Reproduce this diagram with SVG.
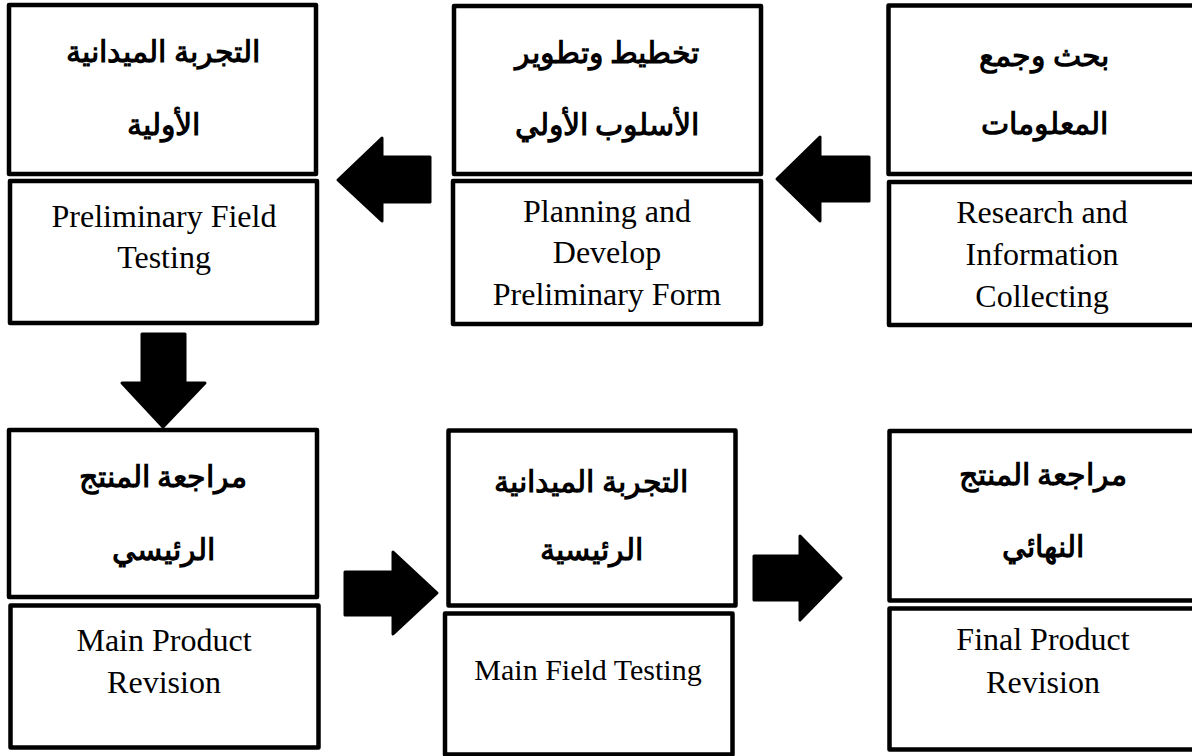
<svg xmlns="http://www.w3.org/2000/svg" width="1192" height="756" viewBox="0 0 1192 756">
<style>
.box{fill:#fff;stroke:#000;stroke-width:4.5;stroke-linejoin:round}
.ar{font-family:"Liberation Serif",serif;font-weight:bold;font-size:30px;fill:#000;text-anchor:middle}
.en{font-family:"Liberation Serif",serif;font-size:32px;fill:#000;text-anchor:middle}
.en30{font-size:30px}
.arrow{fill:#000;stroke:#000;stroke-width:3;stroke-linejoin:round}
</style>
<rect width="1192" height="756" fill="#fff"/>
<g id="connectors">
<polygon class="arrow" points="777,179 820,137 820,157 869,157 869,201 820,201 820,221"/>
<polygon class="arrow" points="338,180 382,138 382,157 430,157 430,202 382,202 382,221"/>
<polygon class="arrow" points="142,334 185,334 185,383 205,383 163,427 122,383 142,383"/>
<polygon class="arrow" points="345,572 393,572 393,552 437,593 393,634 393,615 345,615"/>
<polygon class="arrow" points="754,556 800,556 800,536 841,578 800,620 800,600 754,600"/>
</g>
<g id="node-research">
<rect class="box" x="888.5" y="5.5" width="320" height="168.5"/>
<text class="ar" x="1044" y="66" direction="rtl">بحث وجمع</text>
<text class="ar" x="1044" y="134" direction="rtl">المعلومات</text>
<rect class="box" x="889" y="182" width="320" height="143"/>
<text class="en" x="1042" y="223">Research and</text>
<text class="en" x="1042" y="265">Information</text>
<text class="en" x="1042" y="307">Collecting</text>
</g>
<g id="node-planning">
<rect class="box" x="454" y="6" width="307" height="168"/>
<text class="ar" x="607" y="63" direction="rtl">تخطيط وتطوير</text>
<text class="ar" x="607" y="135" direction="rtl">الأسلوب الأولي</text>
<rect class="box" x="453" y="181" width="308" height="143"/>
<text class="en" x="607" y="222">Planning and</text>
<text class="en" x="607" y="263">Develop</text>
<text class="en" x="607" y="305">Preliminary Form</text>
</g>
<g id="node-prelim-test">
<rect class="box" x="9" y="5" width="307" height="169"/>
<text class="ar" x="163" y="62" direction="rtl">التجربة الميدانية</text>
<text class="ar" x="163" y="135" direction="rtl">الأولية</text>
<rect class="box" x="10" y="181" width="307" height="142"/>
<text class="en" x="164" y="227">Preliminary Field</text>
<text class="en" x="164" y="268">Testing</text>
</g>
<g id="node-main-revision">
<rect class="box" x="9" y="430" width="308" height="167"/>
<text class="ar" x="163" y="487" direction="rtl">مراجعة المنتج</text>
<text class="ar" x="163" y="560" direction="rtl">الرئيسي</text>
<rect class="box" x="10.5" y="605.5" width="308" height="142"/>
<text class="en" x="164" y="651">Main Product</text>
<text class="en" x="164" y="693">Revision</text>
</g>
<g id="node-main-test">
<rect class="box" x="448.5" y="430.5" width="287" height="175"/>
<text class="ar" x="591" y="492" direction="rtl">التجربة الميدانية</text>
<text class="ar" x="591" y="560" direction="rtl">الرئيسية</text>
<rect class="box" x="445" y="613.5" width="287.5" height="141"/>
<text class="en en30" x="588" y="680">Main Field Testing</text>
</g>
<g id="node-final-revision">
<rect class="box" x="889.5" y="431" width="320" height="169.5"/>
<text class="ar" x="1043" y="485" direction="rtl">مراجعة المنتج</text>
<text class="ar" x="1043" y="557" direction="rtl">النهائي</text>
<rect class="box" x="889.5" y="608.5" width="320" height="141"/>
<text class="en" x="1043" y="650">Final Product</text>
<text class="en" x="1043" y="693">Revision</text>
</g>
</svg>
